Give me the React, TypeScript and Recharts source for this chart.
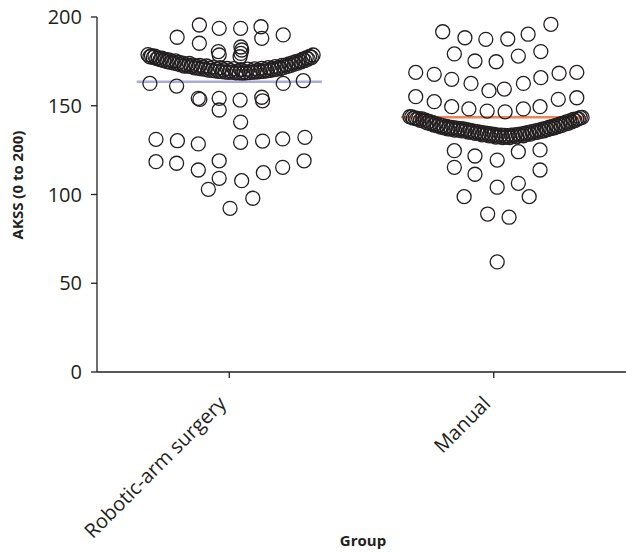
import React from 'react';
import { ScatterChart, Scatter, XAxis, YAxis, ReferenceLine } from 'recharts';

const groups = ['Robotic-arm surgery', 'Manual'];
const groupTicks = [0.5, 1.5];
const yTicks = [0, 50, 100, 150, 200];
const groupMeans = [163.5, 143.5];
const meanHalfWidth = 0.35;

// robotic-arm group: scattered points, then the dense band (two overlapping rows)
const roboticX = [
  0.387, 0.462, 0.543, 0.62, 0.623, 0.704, 0.303, 0.387, 0.459, 0.462, 0.544, 0.547, 0.544, 0.541,
  0.2, 0.301, 0.704, 0.78, 0.383, 0.389, 0.462, 0.462, 0.541, 0.623, 0.626, 0.543,
  0.223, 0.304, 0.383, 0.543, 0.626, 0.702, 0.786, 0.223, 0.301, 0.383, 0.462, 0.462, 0.421,
  0.547, 0.629, 0.702, 0.783, 0.503, 0.589,
  0.193, 0.206, 0.219, 0.232, 0.245, 0.258, 0.271, 0.284, 0.297, 0.31, 0.323, 0.336, 0.349,
  0.362, 0.375, 0.388, 0.401, 0.414, 0.427, 0.44, 0.453, 0.466, 0.479, 0.492, 0.505, 0.518,
  0.531, 0.544, 0.557, 0.57, 0.583, 0.596, 0.609, 0.622, 0.635, 0.648, 0.661, 0.674, 0.687,
  0.7, 0.713, 0.726, 0.739, 0.752, 0.765, 0.778, 0.791, 0.804, 0.817,
  0.2, 0.213, 0.226, 0.239, 0.252, 0.265, 0.278, 0.291, 0.304, 0.317, 0.33, 0.343, 0.356,
  0.369, 0.382, 0.395, 0.408, 0.421, 0.434, 0.447, 0.46, 0.473, 0.486, 0.499, 0.512, 0.525,
  0.538, 0.551, 0.564, 0.577, 0.59, 0.603, 0.616, 0.629, 0.642, 0.655, 0.668, 0.681, 0.694,
  0.707, 0.72, 0.733, 0.746, 0.759, 0.772, 0.785, 0.798, 0.811,
];
const roboticY = [
  195.5, 193.6, 193.6, 194.5, 188.0, 189.9, 188.6, 185.2, 180.5, 178.6, 183.1, 181.4, 179.5, 177.6,
  162.6, 161.1, 162.6, 164.1, 154.2, 153.6, 154.2, 147.6, 153.2, 154.8, 152.8, 140.8,
  131.1, 130.3, 128.5, 129.4, 130.1, 131.3, 132.2, 118.5, 117.6, 113.8, 119.0, 109.1, 102.9,
  107.8, 112.3, 115.3, 119.0, 92.2, 97.9,
  178.8, 178.2, 177.9, 177.0, 176.8, 176.1, 175.9, 175.0, 175.3, 174.4, 174.0, 173.2, 173.8,
  172.9, 172.3, 172.8, 171.9, 172.4, 171.2, 171.8, 170.6, 171.4, 170.2, 171.0, 169.8, 170.9,
  169.5, 170.3, 169.2, 170.6, 169.6, 170.8, 170.0, 171.1, 170.4, 171.5, 171.0, 172.0, 171.6,
  172.7, 172.9, 173.6, 174.2, 174.8, 175.3, 176.2, 176.9, 177.8, 178.6,
  177.6, 177.2, 176.5, 176.0, 175.4, 174.9, 174.4, 174.0, 173.6, 173.0, 172.4, 172.3, 172.0,
  171.3, 171.2, 170.8, 170.6, 170.1, 169.9, 169.6, 169.4, 169.2, 169.0, 168.8, 168.9, 168.6,
  168.5, 168.4, 168.6, 168.7, 168.9, 169.0, 169.3, 169.4, 169.7, 170.0, 170.3, 170.6, 171.0,
  171.6, 172.2, 172.8, 173.4, 174.0, 174.7, 175.5, 176.3, 177.2,
];

// manual group: scattered points, then the dense band (two overlapping rows)
const manualX = [
  1.307, 1.391, 1.47, 1.553, 1.63, 1.716, 1.351, 1.429, 1.509, 1.593, 1.678,
  1.205, 1.275, 1.341, 1.414, 1.482, 1.54, 1.612, 1.678, 1.747, 1.814,
  1.205, 1.275, 1.341, 1.406, 1.475, 1.543, 1.612, 1.675, 1.744, 1.814,
  1.351, 1.429, 1.513, 1.593, 1.675, 1.351, 1.429, 1.675, 1.513, 1.593, 1.388, 1.634,
  1.477, 1.558, 1.513,
  1.183, 1.196, 1.209, 1.222, 1.235, 1.248, 1.261, 1.274, 1.287, 1.3, 1.313, 1.326, 1.339,
  1.352, 1.365, 1.378, 1.391, 1.404, 1.417, 1.43, 1.443, 1.456, 1.469, 1.482, 1.495, 1.508,
  1.521, 1.534, 1.547, 1.56, 1.573, 1.586, 1.599, 1.612, 1.625, 1.638, 1.651, 1.664, 1.677,
  1.69, 1.703, 1.716, 1.729, 1.742, 1.755, 1.768, 1.781, 1.794, 1.807, 1.82, 1.834,
  1.19, 1.203, 1.216, 1.229, 1.242, 1.255, 1.268, 1.281, 1.294, 1.307, 1.32, 1.333, 1.346,
  1.359, 1.372, 1.385, 1.398, 1.411, 1.424, 1.437, 1.45, 1.463, 1.476, 1.489, 1.502, 1.515,
  1.528, 1.541, 1.554, 1.567, 1.58, 1.593, 1.606, 1.619, 1.632, 1.645, 1.658, 1.671, 1.684,
  1.697, 1.71, 1.723, 1.736, 1.749, 1.762, 1.775, 1.788, 1.801, 1.814, 1.827,
];
const manualY = [
  191.7, 188.3, 187.4, 187.6, 190.3, 195.9, 179.2, 175.2, 174.8, 178.0, 180.5,
  168.8, 167.7, 164.9, 162.6, 158.5, 159.4, 162.6, 165.8, 168.3, 168.8,
  155.1, 152.3, 149.5, 148.2, 147.0, 146.6, 148.2, 149.5, 153.6, 154.5,
  124.7, 121.7, 119.4, 124.1, 125.1, 115.3, 111.4, 113.8, 104.1, 106.3, 98.8, 98.8,
  89.0, 87.2, 62.0,
  143.8, 143.0, 142.6, 141.8, 141.3, 140.4, 140.0, 139.1, 138.7, 138.0, 137.6, 137.0, 136.9,
  136.3, 136.4, 135.8, 135.9, 135.2, 135.0, 134.4, 134.3, 133.6, 133.7, 133.0, 133.1, 132.4,
  132.6, 132.1, 132.4, 132.0, 132.7, 132.5, 133.3, 133.1, 133.9, 134.0, 134.7, 135.0, 135.6,
  135.9, 136.6, 137.1, 137.6, 138.3, 138.8, 139.6, 140.1, 140.9, 141.6, 142.6, 143.4,
  143.7, 143.2, 142.8, 142.6, 141.9, 141.2, 140.6, 139.9, 139.4, 138.8, 138.3, 138.0, 137.6,
  137.4, 137.1, 136.9, 136.6, 136.1, 135.7, 135.4, 135.0, 134.7, 134.4, 134.1, 133.8, 133.5,
  133.4, 133.3, 133.2, 133.4, 133.6, 133.9, 134.2, 134.5, 135.0, 135.4, 135.9, 136.3, 136.8,
  137.3, 137.9, 138.4, 139.0, 139.6, 140.2, 140.9, 141.5, 142.3, 142.6, 143.3,
];

const roboticData = roboticX.map((x, i) => ({ x, y: roboticY[i] }));
const manualData = manualX.map((x, i) => ({ x, y: manualY[i] }));
const meanColors = ['#a9abd9', '#f0845a'];

const FONT = '"Open Sans", sans-serif';
const INK = '#231f20';

const Ring = (props: any) => (
  <circle cx={props.cx} cy={props.cy} r={7} fill="none" stroke={INK} strokeWidth={1.3} />
);

const GroupTick = (props: any) => {
  const { x, y, payload } = props;
  const idx = groupTicks.indexOf(payload.value);
  const ax = x - 2;
  const ay = y + 25;
  return (
    <text
      x={ax}
      y={ay}
      transform={`rotate(-45 ${ax} ${ay})`}
      textAnchor="end"
      fontFamily={FONT}
      fontSize={20}
      fill={INK}
    >
      {groups[idx]}
    </text>
  );
};

export default function App() {
  return (
    <div style={{ position: 'absolute', left: 0, top: 0, background: '#fff' }}>
      <ScatterChart width={626} height={552} margin={{ top: 17, right: 0, bottom: 0, left: 0 }}>
        <XAxis
          type="number"
          dataKey="x"
          domain={[0, 2]}
          ticks={groupTicks}
          tick={<GroupTick />}
          tickSize={6}
          height={180}
          axisLine={{ stroke: INK, strokeWidth: 1.3 }}
          tickLine={{ stroke: INK, strokeWidth: 1.3 }}
          label={() => (
            <text x={363} y={546} textAnchor="middle" fontFamily={FONT} fontWeight="bold" fontSize={15} fill={INK}>
              Group
            </text>
          )}
        />
        <YAxis
          type="number"
          dataKey="y"
          domain={[0, 200]}
          ticks={yTicks}
          width={97}
          tickSize={6}
          tickMargin={9}
          tick={{ fontFamily: FONT, fontSize: 20, fill: INK }}
          axisLine={{ stroke: INK, strokeWidth: 1.3 }}
          tickLine={{ stroke: INK, strokeWidth: 1.3 }}
          label={() => (
            <text
              x={23}
              y={185}
              transform="rotate(-90 23 185)"
              textAnchor="middle"
              fontFamily={FONT}
              fontWeight="bold"
              fontSize={15}
              fill={INK}
            >
              AKSS (0 to 200)
            </text>
          )}
        />
        <Scatter data={roboticData} shape={Ring} isAnimationActive={false} />
        <Scatter data={manualData} shape={Ring} isAnimationActive={false} />
        {groupMeans.map((m, i) => (
          <ReferenceLine
            key={groups[i]}
            segment={[
              { x: groupTicks[i] - meanHalfWidth, y: m },
              { x: groupTicks[i] + meanHalfWidth, y: m },
            ]}
            stroke={meanColors[i]}
            strokeWidth={2.5}
          />
        ))}
      </ScatterChart>
    </div>
  );
}
